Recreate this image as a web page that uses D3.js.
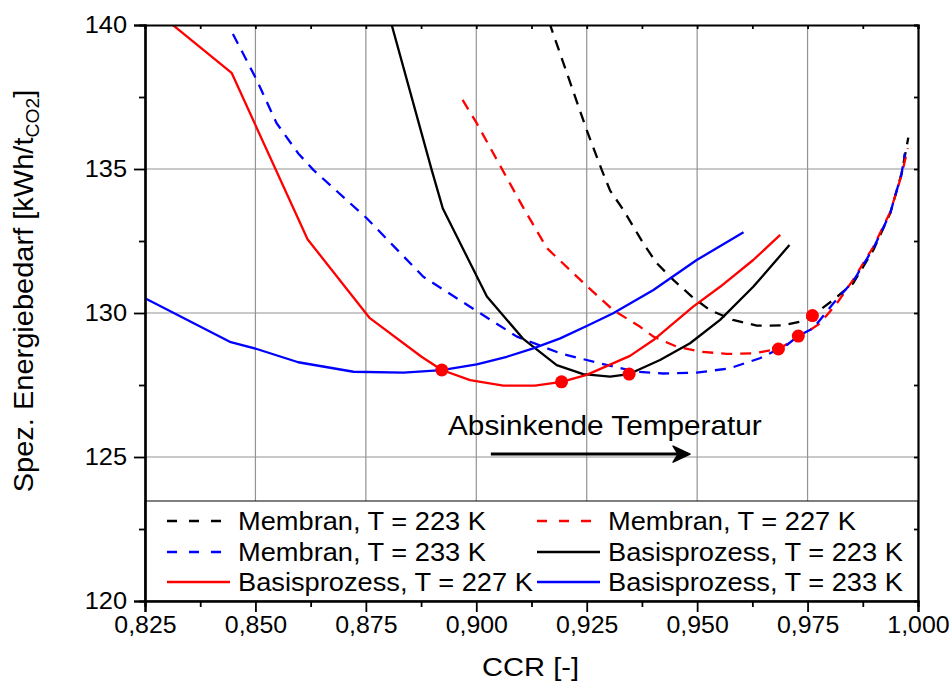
<!DOCTYPE html>
<html><head><meta charset="utf-8">
<script src="https://cdn.jsdelivr.net/npm/d3@7"></script>
<style>
body{margin:0;background:#fff}
svg{display:block}
text{font-family:"Liberation Sans",Arial,sans-serif;fill:#000}
</style>
</head><body>
<svg id="chart" width="949" height="689"></svg>
<script>
// ---------- data ----------
const xTickValues = [0.825,0.850,0.875,0.900,0.925,0.950,0.975,1.000];
const xTickLabels = ["0,825","0,850","0,875","0,900","0,925","0,950","0,975","1,000"];
const yTickValues = [120,125,130,135,140];
const yTickLabels = ["120","125","130","135","140"];

const membran223 = [[0.9165,140.10],[0.9250,136.35],[0.9284,134.97],[0.9303,134.25],[0.9333,133.58],[0.9378,132.42],[0.9408,131.74],[0.9446,131.15],[0.9488,130.57],[0.9529,130.10],[0.9581,129.76],[0.9635,129.56],[0.9694,129.57],[0.9733,129.70],[0.9761,129.91],[0.9808,130.45],[0.9853,131.03],[0.9899,132.19],[0.9937,133.46],[0.9963,134.85],[0.9978,136.09]];
const membran227 = [[0.8969,137.40],[0.9001,136.59],[0.9107,133.64],[0.9160,132.25],[0.9250,130.94],[0.9310,130.10],[0.9371,129.52],[0.9401,129.18],[0.9454,128.83],[0.9506,128.66],[0.9567,128.58],[0.9627,128.60],[0.9684,128.75],[0.9733,129.18],[0.9778,129.64],[0.9816,130.33],[0.9853,131.15],[0.9899,132.30],[0.9937,133.50],[0.9963,134.80],[0.9977,135.72]];
const membran233 = [[0.8449,139.69],[0.8503,138.09],[0.8548,136.59],[0.8597,135.54],[0.8631,134.97],[0.8752,133.29],[0.8880,131.26],[0.9001,130.07],[0.9092,129.18],[0.9190,128.60],[0.9280,128.25],[0.9363,127.96],[0.9423,127.90],[0.9499,127.93],[0.9574,128.08],[0.9642,128.43],[0.9703,128.89],[0.9729,129.20],[0.9763,129.47],[0.9808,130.33],[0.9853,131.10],[0.9899,132.25],[0.9937,133.46],[0.9963,134.85],[0.9970,135.54]];
const basis223 = [[0.8805,140.20],[0.8899,134.97],[0.8924,133.64],[0.9024,130.57],[0.9107,129.09],[0.9182,128.19],[0.9242,127.88],[0.9303,127.79],[0.9346,127.88],[0.9416,128.37],[0.9484,128.95],[0.9552,129.76],[0.9627,130.91],[0.9709,132.36]];
const basis227 = [[0.8309,140.05],[0.8446,138.34],[0.8618,132.56],[0.8759,129.82],[0.8876,128.48],[0.8922,128.02],[0.8986,127.67],[0.9061,127.48],[0.9133,127.48],[0.9193,127.61],[0.9250,127.85],[0.9348,128.51],[0.9401,129.06],[0.9491,130.22],[0.9552,130.91],[0.9627,131.84],[0.9688,132.71]];
const basis233 = [[0.8250,130.51],[0.8442,129.00],[0.8503,128.75],[0.8597,128.29],[0.8722,127.96],[0.8835,127.93],[0.8922,128.02],[0.9001,128.22],[0.9069,128.48],[0.9129,128.77],[0.9190,129.12],[0.9250,129.55],[0.9310,129.99],[0.9401,130.80],[0.9499,131.84],[0.9605,132.80]];
const optimumPoints = [[0.8922,128.02],[0.9193,127.61],[0.9346,127.88],[0.9684,128.75],[0.9729,129.20],[0.9761,129.91]];

const seriesNames = ["Membran, T = 223 K","Membran, T = 227 K","Membran, T = 233 K","Basisprozess, T = 223 K","Basisprozess, T = 227 K","Basisprozess, T = 233 K"];
const seriesData = [membran223, membran227, membran233, basis223, basis227, basis233];
const seriesColors = ["#000000","#ff0000","#0000ff","#000000","#ff0000","#0000ff"];
const seriesDashed = [true,true,true,false,false,false];

const annotationText = "Absinkende Temperatur";
const annotationPos = [0.8936,125.76];
const arrowFrom = [0.9033,125.10];
const arrowTo = [0.9484,125.10];

// ---------- layout ----------
const W = 949, H = 689;
const L = 145, R = 918, T = 25, B = 601;
const svg = d3.select("#chart");

const x = d3.scaleLinear().domain([0.825,1.0]).range([L,R]);
const y = d3.scaleLinear().domain([120,140]).range([B,T]);

// grid
const g = svg.append("g");
g.selectAll(".vg").data(xTickValues.filter(v=>v>0.826&&v<0.999)).join("line")
  .attr("x1",d=>x(d)).attr("x2",d=>x(d)).attr("y1",T).attr("y2",B)
  .attr("stroke","#939393").attr("stroke-width",1.2);
g.selectAll(".hg").data(yTickValues.filter(v=>v>120&&v<140)).join("line")
  .attr("x1",L).attr("x2",R).attr("y1",d=>y(d)).attr("y2",d=>y(d))
  .attr("stroke","#939393").attr("stroke-width",1.2);

// clip
svg.append("clipPath").attr("id","clip").append("rect")
  .attr("x",L).attr("y",T).attr("width",R-L).attr("height",B-T);

const line = d3.line().x(d=>x(d[0])).y(d=>y(d[1]));
const plot = svg.append("g").attr("clip-path","url(#clip)");
seriesData.forEach((data,i)=>{
  plot.append("path").datum(data).attr("d",line)
    .attr("fill","none").attr("stroke",seriesColors[i]).attr("stroke-width",2.3)
    .attr("stroke-linejoin","round")
    .attr("stroke-dasharray",seriesDashed[i]?"11,8":null);
});
plot.selectAll("circle").data(optimumPoints).join("circle")
  .attr("cx",d=>x(d[0])).attr("cy",d=>y(d[1])).attr("r",6.5).attr("fill","#ff0000");

// stretched text helper
function sText(parent, px, py, str, fs, sx, anchor){
  return parent.append("text")
    .attr("transform",`translate(${px},${py}) scale(${sx},1)`)
    .attr("font-size",fs).attr("text-anchor",anchor||"start").text(str);
}

// annotation
sText(svg, x(annotationPos[0]), y(annotationPos[1]), annotationText, 28.5, 1.045);
const ax1 = x(arrowFrom[0]), ax2 = x(arrowTo[0]), ay = y(arrowFrom[1]);
svg.append("line").attr("x1",ax1).attr("x2",ax2-6).attr("y1",ay).attr("y2",ay)
  .attr("stroke","#000").attr("stroke-width",3);
svg.append("path")
  .attr("d",`M${ax2},${ay} L${ax2-17},${ay-8} L${ax2-12},${ay} L${ax2-17},${ay+8} Z`)
  .attr("fill","#000").attr("stroke","#000").attr("stroke-width",1.5).attr("stroke-linejoin","round");

// legend
const legTop = 501;
svg.append("rect").attr("x",L).attr("y",legTop).attr("width",R-L).attr("height",B-legTop)
  .attr("fill","#fff").attr("stroke","#000").attr("stroke-width",1);
const colX = [167,537];
const rowY = [521,552,582];
seriesNames.forEach((name,i)=>{
  const cx = colX[i%2], cy = rowY[Math.floor(i/2)];
  svg.append("line").attr("x1",cx).attr("x2",cx+63).attr("y1",cy).attr("y2",cy)
    .attr("stroke",seriesColors[i]).attr("stroke-width",2.3)
    .attr("stroke-dasharray",seriesDashed[i]?"10,12":null);
  sText(svg, cx+71, cy+8.8, name, 25, 1.09);
});

// axes
const axB = d3.axisBottom(x).tickValues(xTickValues).tickFormat((d,i)=>xTickLabels[i]).tickSize(11).tickPadding(4);
const axBm = d3.axisBottom(x).tickValues(d3.range(0,7).map(i=>0.8375+i*0.025)).tickSize(6).tickFormat("");
const axL = d3.axisLeft(y).tickValues(yTickValues).tickFormat((d,i)=>yTickLabels[i]).tickSize(11).tickPadding(6);
const axLm = d3.axisLeft(y).tickValues([122.5,127.5,132.5,137.5]).tickSize(6).tickFormat("");
const axT = d3.axisBottom(x).tickValues(d3.range(0,15).map(i=>0.8375+i*0.0125)).tickSize(4).tickFormat("");
const axR = d3.axisLeft(y).tickValues(d3.range(0,9).map(i=>122.5+i*2.5)).tickSize(4).tickFormat("");

function styleAxis(sel){
  sel.select(".domain").attr("stroke","#000").attr("stroke-width",2.2);
  sel.selectAll(".tick line").attr("stroke","#000").attr("stroke-width",1.8);
  sel.selectAll("text").attr("font-size",23.5).attr("font-family","'Liberation Sans',Arial,sans-serif").attr("fill","#000");
  return sel;
}
const gB = styleAxis(svg.append("g").attr("transform",`translate(0,${B})`).call(axB));
gB.selectAll(".tick text").attr("transform","scale(1.06,1)");
styleAxis(svg.append("g").attr("transform",`translate(0,${B})`).call(axBm));
const gL = styleAxis(svg.append("g").attr("transform",`translate(${L},0)`).call(axL));
gL.selectAll(".tick text").attr("x",-18/1.08).attr("transform","scale(1.08,1)");
styleAxis(svg.append("g").attr("transform",`translate(${L},0)`).call(axLm));
styleAxis(svg.append("g").attr("transform",`translate(0,${T})`).call(axT));
styleAxis(svg.append("g").attr("transform",`translate(${R},0)`).call(axR));

// axis titles
sText(svg, (L+R)/2-1, 676, "CCR [-]", 26, 1.12, "middle");
const yt = svg.append("text").attr("transform",`translate(33,291) rotate(-90) scale(1.075,1)`)
  .attr("text-anchor","middle").attr("font-size",27);
yt.append("tspan").text("Spez. Energiebedarf [kWh/t");
yt.append("tspan").attr("font-size",18).attr("dy",6).text("CO2");
yt.append("tspan").attr("dy",-6).text("]");
</script>
</body></html>
